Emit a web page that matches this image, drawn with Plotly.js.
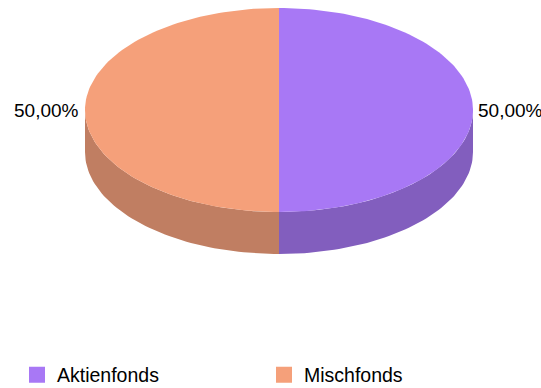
<!DOCTYPE html>
<html>
<head>
<meta charset="utf-8">
<script src="https://cdn.plot.ly/plotly-3.0.1.min.js"></script>
<style>html,body{margin:0;padding:0;background:#fff;}#chart{width:541px;height:388px;}</style>
</head>
<body>
<div id="chart"></div>
<script>
// Data
const labels = ["Aktienfonds", "Mischfonds"];
const values = [50, 50];
const topColors = ["#A878F5", "#F5A07A"];
const sideColors = ["#825EBE", "#C07E62"];

// Geometry (pixel-space layout of the 3D pie)
const W = 541, H = 388;
const cx = 279, cy = 110, rx = 194, ry = 102, depth = 42;
const N = 120;

function pt(deg, dy) {
  const t = deg * Math.PI / 180;
  return [cx + rx * Math.sin(t), cy - ry * Math.cos(t) + (dy || 0)];
}
function arc(a0, a1, dy) {
  const xs = [], ys = [];
  const n = Math.max(2, Math.ceil(Math.abs(a1 - a0) / 360 * N * 2));
  for (let i = 0; i <= n; i++) {
    const p = pt(a0 + (a1 - a0) * i / n, dy);
    xs.push(p[0]); ys.push(p[1]);
  }
  return [xs, ys];
}

const total = values.reduce((a, b) => a + b, 0);
const slices = [];
let acc = 0;
values.forEach((v, i) => {
  const a0 = acc / total * 360, a1 = (acc + v) / total * 360;
  slices.push({a0, a1, i});
  acc += v;
});

const traces = [];
// Sides (front-facing part: 90..270 deg)
slices.forEach(s => {
  const lo = Math.max(s.a0, 90), hi = Math.min(s.a1, 270);
  if (hi > lo) {
    const [x1, y1] = arc(lo, hi, 0);
    const [x2, y2] = arc(hi, lo, depth);
    traces.push({
      x: x1.concat(x2, [x1[0]]), y: y1.concat(y2, [y1[0]]),
      type: "scatter", mode: "lines", fill: "toself",
      fillcolor: sideColors[s.i], line: {width: 0, color: sideColors[s.i]},
      hoverinfo: "skip", showlegend: false
    });
  }
});
// Tops
slices.forEach(s => {
  const [xa, ya] = arc(s.a0, s.a1, 0);
  traces.push({
    x: [cx].concat(xa, [cx]), y: [cy].concat(ya, [cy]),
    type: "scatter", mode: "lines", fill: "toself",
    fillcolor: topColors[s.i], line: {width: 0, color: topColors[s.i]},
    hoverinfo: "skip", showlegend: false
  });
});
// Legend entries (one legend per entry for exact placement)
labels.forEach((lab, i) => {
  traces.push({
    x: [null], y: [null], type: "scatter", mode: "markers", name: lab,
    marker: {symbol: "square", size: 16, color: topColors[i]},
    showlegend: true, hoverinfo: "skip",
    legend: i === 0 ? "legend" : "legend2"
  });
});

// Percentage labels
const annotations = slices.map(s => {
  const mid = (s.a0 + s.a1) / 2;
  const p = pt(mid, 0);
  const right = Math.sin(mid * Math.PI / 180) >= 0;
  const pct = (values[s.i] / total * 100).toFixed(2).replace(".", ",") + "%";
  return {
    x: p[0] + (right ? 3 : -4), y: p[1], xref: "x", yref: "y",
    text: pct, showarrow: false,
    xanchor: right ? "left" : "right", yanchor: "middle",
    font: {family: "Liberation Sans, Arial, sans-serif", size: 19, color: "#000"}
  };
});

const legFont = {family: "Liberation Sans, Arial, sans-serif", size: 19.5, color: "#000"};
const legY = 1 - 375 / H;
const layout = {
  width: W, height: H,
  margin: {l: 0, r: 0, t: 0, b: 0, autoexpand: false},
  paper_bgcolor: "#fff", plot_bgcolor: "#fff",
  xaxis: {range: [0, W], visible: false, fixedrange: true},
  yaxis: {range: [H, 0], visible: false, fixedrange: true},
  showlegend: true,
  legend: {
    orientation: "h", x: 17 / W, xanchor: "left", y: legY, yanchor: "middle",
    font: legFont, bgcolor: "rgba(0,0,0,0)"
  },
  legend2: {
    orientation: "h", x: 264 / W, xanchor: "left", y: legY, yanchor: "middle",
    font: legFont, bgcolor: "rgba(0,0,0,0)"
  },
  annotations: annotations
};

Plotly.newPlot("chart", traces, layout, {displayModeBar: false, staticPlot: true});
</script>
</body>
</html>
